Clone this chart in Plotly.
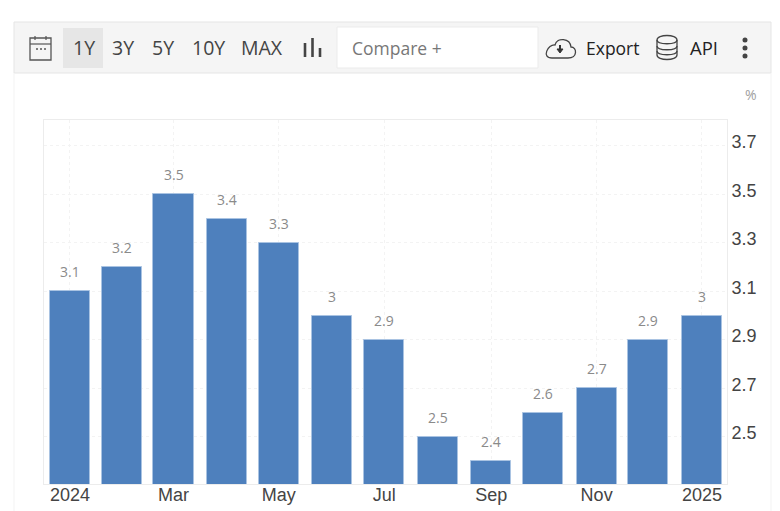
import plotly.graph_objects as go

# page body has an 8px margin, so the figure is drawn 8px smaller and all pixel positions shifted
OFFSET = 8
W, H = 780 - OFFSET, 511 - OFFSET
L, R, T, B = 44, 727, 120, 484

# monthly values
months = ["2024-01-31", "2024-03-01", "2024-03-31", "2024-05-01", "2024-05-31", "2024-07-01", "2024-07-31",
          "2024-08-31", "2024-10-01", "2024-10-31", "2024-12-01", "2024-12-31", "2025-01-31"]
rates = [3.1, 3.2, 3.5, 3.4, 3.3, 3.0, 2.9, 2.5, 2.4, 2.6, 2.7, 2.9, 3.0]
bar_labels = ["3.1", "3.2", "3.5", "3.4", "3.3", "3", "2.9", "2.5", "2.4", "2.6", "2.7", "2.9", "3"]

x_tick_dates = ["2024-01-31", "2024-03-31", "2024-05-31", "2024-07-31", "2024-10-01", "2024-12-01", "2025-01-31"]
x_tick_labels = ["2024", "Mar", "May", "Jul", "Sep", "Nov", "2025"]
y_ticks = [2.5, 2.7, 2.9, 3.1, 3.3, 3.5, 3.7]

range_buttons = ["1Y", "3Y", "5Y", "10Y", "MAX"]

UI_FONT = "Open Sans"
AXIS_FONT = "Liberation Sans"
BAR_WIDTH_MS = 23.2 * 86400000


def px(x):
    return (x - L) / (R - L)


def py(y):
    return (B - y) / (B - T)


def rect(x0, y0, x1, y1, fill, line="rgba(0,0,0,0)", width=1):
    return dict(type="rect", xref="paper", yref="paper", x0=px(x0), x1=px(x1), y0=py(y0), y1=py(y1),
                fillcolor=fill, line=dict(color=line, width=width), layer="below")


def seg(x0, y0, x1, y1, color="#555555", width=1.4):
    return dict(type="line", xref="paper", yref="paper", x0=px(x0), x1=px(x1), y0=py(y0), y1=py(y1),
                line=dict(color=color, width=width))


def path(points, color="#444444", width=1.3, fill="rgba(0,0,0,0)"):
    # points: command letter + pixel coordinates, converted to paper space
    parts = []
    for p in points:
        if isinstance(p, str):
            parts.append(p)
        else:
            parts.append(f"{px(p[0]):.5f},{py(p[1]):.5f}")
    return dict(type="path", xref="paper", yref="paper", path=" ".join(parts),
                line=dict(color=color, width=width), fillcolor=fill)


def label(x, y, text, size=19.5, color="#444444", family=UI_FONT, anchor="center"):
    return dict(xref="paper", yref="paper", x=px(x), y=py(y), text=text, showarrow=False, xanchor=anchor,
                yanchor="middle", font=dict(size=size, color=color, family=family))


fig = go.Figure(go.Bar(
    x=months, y=rates, width=BAR_WIDTH_MS,
    marker=dict(color="#4e80bd", line=dict(color="#a9c3e2", width=1)),
    hoverinfo="x+y",
))

shapes = [
    # outer frame + toolbar
    seg(14, 73, 14, 511, "#f3f3f3", 1),
    seg(771, 73, 771, 511, "#f3f3f3", 1),
    rect(14, 22, 771, 73, "#f5f5f5", "#e5e5e5"),
    rect(63, 28, 103, 68, "#e6e6e6"),
    rect(337, 27, 538, 68, "#ffffff", "#ebebeb"),
    # calendar icon
    dict(rect(30, 38, 51, 60, "rgba(0,0,0,0)", "#555555", 1.3), layer="above"),
    seg(30, 44, 51, 44, "#555555", 1.2),
    seg(35, 36, 35, 40, "#555555", 1.2),
    seg(46, 36, 46, 40, "#555555", 1.2),
    seg(36, 49, 38, 49, "#555555", 1.6),
    seg(40, 49, 42, 49, "#555555", 1.6),
    seg(44, 49, 46, 49, "#555555", 1.6),
    # bars icon
    seg(305, 43, 305, 57, "#444444", 2.6),
    seg(312.5, 38, 312.5, 57, "#444444", 2.6),
    seg(320, 48, 320, 57, "#444444", 2.6),
    # cloud icon
    path(["M", (552, 58), "L", (568, 58),
          "C", (578, 58), (577, 47), (571, 47),
          "C", (570, 38), (557, 37), (555, 45),
          "C", (548, 44), (541, 58), (552, 58), "Z"]),
    seg(560, 45, 560, 51, "#333333", 2),
    path(["M", (557, 49), "L", (563, 49), "L", (560, 53), "Z"], "#333333", 1, "#333333"),
    # database icon
    path(["M", (657, 40), "C", (657, 34), (677, 34), (677, 40),
          "C", (677, 45), (657, 45), (657, 40), "Z"]),
    path(["M", (657, 40), "L", (657, 55), "C", (657, 61), (677, 61), (677, 55), "L", (677, 40)]),
    path(["M", (657, 46), "C", (657, 51), (677, 51), (677, 46)]),
    path(["M", (657, 51), "C", (657, 56), (677, 56), (677, 51)]),
    # kebab menu
    dict(type="circle", xref="paper", yref="paper", x0=px(742.5), x1=px(747.5), y0=py(42.5), y1=py(37.5),
         fillcolor="#444444", line=dict(width=0)),
    dict(type="circle", xref="paper", yref="paper", x0=px(742.5), x1=px(747.5), y0=py(50.5), y1=py(45.5),
         fillcolor="#444444", line=dict(width=0)),
    dict(type="circle", xref="paper", yref="paper", x0=px(742.5), x1=px(747.5), y0=py(58.5), y1=py(53.5),
         fillcolor="#444444", line=dict(width=0)),
]

button_x = [84, 123, 163, 208, 262]
annotations = [label(x, 47.5, t) for x, t in zip(button_x, range_buttons)]
annotations += [
    label(350, 48, "Compare +", 17.5, "#777777", anchor="left"),
    label(613, 47.5, "Export", 17.5, "#222222"),
    label(704, 47.5, "API", 18.5, "#222222"),
    label(751, 94, "%", 14, "#a0a0a0"),
]
# value labels sit a bit above the bars
for m, v, t in zip(months, rates, bar_labels):
    annotations.append(dict(x=m, y=v, text=t, showarrow=False, yanchor="bottom", yshift=8,
                            font=dict(size=14, color="#8a8a8a", family=UI_FONT)))

fig.update_layout(
    width=W, height=H,
    margin=dict(l=L - OFFSET, r=W - (R - OFFSET), t=T - OFFSET, b=H - (B - OFFSET), pad=0),
    paper_bgcolor="white", plot_bgcolor="white",
    showlegend=False, bargap=0,
    shapes=shapes, annotations=annotations,
    xaxis=dict(
        type="date", range=["2024-01-16", "2025-02-14 12:00"], automargin=False,
        tickmode="array", tickvals=x_tick_dates, ticktext=x_tick_labels,
        showgrid=True, gridcolor="#f3f3f3", griddash="dot", gridwidth=1,
        showline=True, linecolor="#ececec", mirror=True, ticks="", ticklabelstandoff=-6,
        zeroline=False, tickfont=dict(size=18, color="#444444", family=AXIS_FONT),
    ),
    yaxis=dict(
        side="right", range=[2.306, 3.806], automargin=False,
        tickmode="array", tickvals=y_ticks, ticktext=[f"{v:.1f}" for v in y_ticks],
        showgrid=True, gridcolor="#f3f3f3", griddash="dot", gridwidth=1,
        showline=True, linecolor="#ececec", mirror=True, ticks="", ticklabelshift=-4,
        zeroline=False, tickfont=dict(size=18, color="#444444", family=AXIS_FONT),
    ),
)

fig.write_html("out.html", config=dict(displayModeBar=False))
